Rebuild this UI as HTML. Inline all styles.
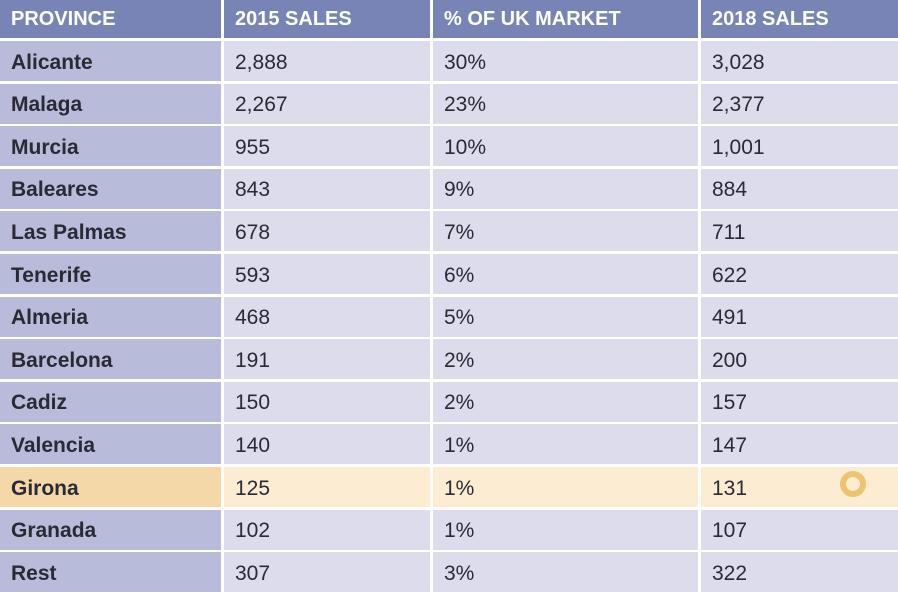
<!DOCTYPE html>
<html><head><style>
body{margin:0;width:898px;height:594px;background:#fff;overflow:hidden;font-family:"Liberation Sans",sans-serif}
.c{position:absolute;box-sizing:border-box;padding-left:11px;padding-top:3px;display:flex;align-items:center;font-size:21px;color:#2a2a35}
.h{background:#7884b6;color:#fff;font-weight:bold;font-size:20px;padding-top:1px}
.f{background:#b8bbd9;font-weight:bold}
.o{background:#dddced}
.gf{background:#f5d8a8;font-weight:bold}
.go{background:#fbecd2}
</style></head><body>
<div id="t"></div>
<script>
const cols=[[0,221],[224,430],[433,698],[701,898]];
const rows=[["PROVINCE","2015 SALES","% OF UK MARKET","2018 SALES"],
["Alicante","2,888","30%","3,028"],["Malaga","2,267","23%","2,377"],["Murcia","955","10%","1,001"],
["Baleares","843","9%","884"],["Las Palmas","678","7%","711"],["Tenerife","593","6%","622"],
["Almeria","468","5%","491"],["Barcelona","191","2%","200"],["Cadiz","150","2%","157"],
["Valencia","140","1%","147"],["Girona","125","1%","131"],["Granada","102","1%","107"],["Rest","307","3%","322"]];
let h="";
rows.forEach((r,i)=>{
 let y=i==0?0:41+(i-1)*42.6, hh=i==0?38:40;
 r.forEach((t,j)=>{
  let cls=i==0?"h":(i==11?(j==0?"gf":"go"):(j==0?"f":"o"));
  h+=`<div class="c ${cls}" style="left:${cols[j][0]}px;top:${y}px;width:${cols[j][1]-cols[j][0]}px;height:${hh}px">${t}</div>`;
 });
});
h+=`<div style="position:absolute;left:840px;top:471px;width:14px;height:14px;border:6px solid #ebb955;border-radius:50%;opacity:.8"></div>`;
document.getElementById("t").innerHTML=h;
</script>
</body></html>
